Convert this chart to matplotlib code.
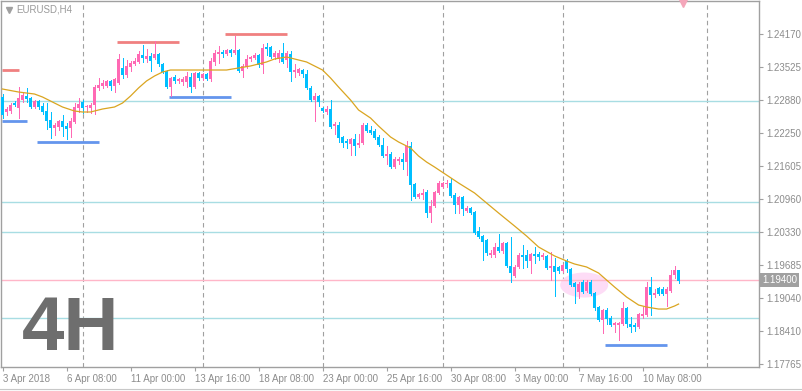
import numpy as np
import matplotlib.pyplot as plt
from matplotlib.patches import Ellipse
from matplotlib.lines import Line2D
from matplotlib.transforms import blended_transform_factory

# EURUSD H4 candles, 3 Apr 2018 - 10 May 2018
opens = [
    1.22947, 1.22656, 1.22675, 1.22830, 1.22733, 1.22889, 1.22966, 1.22928, 1.22753, 1.22869,
    1.22772, 1.22675, 1.22501, 1.22345, 1.22365, 1.22481, 1.22384, 1.22345, 1.22462, 1.22733,
    1.22850, 1.22753, 1.22733, 1.22792, 1.23122, 1.23160, 1.23160, 1.23258, 1.23160, 1.23219,
    1.23510, 1.23374, 1.23530, 1.23588, 1.23627, 1.23763, 1.23685, 1.23743, 1.23705, 1.23782,
    1.23588, 1.23452, 1.23141, 1.23335, 1.23258, 1.23238, 1.23238, 1.23335, 1.23141, 1.23413,
    1.23316, 1.23393, 1.23296, 1.23627, 1.23782, 1.23821, 1.23782, 1.23860, 1.23802, 1.23860,
    1.23452, 1.23530, 1.23685, 1.23705, 1.23763, 1.23568, 1.23918, 1.23918, 1.23724, 1.23685,
    1.23802, 1.23665, 1.23782, 1.23432, 1.23413, 1.23471, 1.23393, 1.23122, 1.22889, 1.22966,
    1.22733, 1.22656, 1.22714, 1.22384, 1.22403, 1.22171, 1.22094, 1.22035, 1.22132, 1.22016,
    1.22055, 1.22403, 1.22307, 1.22287, 1.22171, 1.22016, 1.21802, 1.21841, 1.21588, 1.21705,
    1.21744, 1.21685, 1.21997, 1.21258, 1.21006, 1.21045, 1.21103, 1.20696, 1.20832, 1.21084,
    1.21200, 1.21258, 1.21278, 1.21045, 1.20851, 1.21006, 1.20734, 1.20793, 1.20715, 1.20346,
    1.20249, 1.20172, 1.19881, 1.19881, 1.20036, 1.19959, 1.20114, 1.19667, 1.19473, 1.19648,
    1.19881, 1.19881, 1.19764, 1.19900, 1.19900, 1.19842, 1.19862, 1.19628, 1.19667, 1.19648,
    1.19570, 1.19764, 1.19609, 1.19337, 1.19162, 1.19356, 1.19181, 1.19356, 1.19142, 1.18871,
    1.18619, 1.18813, 1.18658, 1.18522, 1.18522, 1.18541, 1.18852, 1.18541, 1.18522, 1.18483,
    1.18697, 1.18716, 1.19259, 1.19104, 1.19240, 1.19220, 1.19123, 1.19181, 1.19492, 1.19589,
]
highs = [
    1.23005, 1.22753, 1.22830, 1.22869, 1.23141, 1.23025, 1.23122, 1.22947, 1.22889, 1.22889,
    1.22830, 1.22830, 1.22656, 1.22442, 1.22501, 1.22598, 1.22442, 1.22539, 1.22830, 1.22928,
    1.22889, 1.22792, 1.22830, 1.23180, 1.23316, 1.23277, 1.23277, 1.23277, 1.23316, 1.23782,
    1.23705, 1.23665, 1.23646, 1.23705, 1.23840, 1.23957, 1.23879, 1.23802, 1.24035, 1.23802,
    1.23607, 1.23471, 1.23335, 1.23374, 1.23316, 1.23335, 1.23432, 1.23413, 1.23432, 1.23432,
    1.23413, 1.23413, 1.23705, 1.23860, 1.23937, 1.23860, 1.23879, 1.23879, 1.24132, 1.23879,
    1.23588, 1.23763, 1.23743, 1.23802, 1.23782, 1.23976, 1.23996, 1.23937, 1.23840, 1.23860,
    1.23996, 1.23840, 1.23840, 1.23588, 1.23510, 1.23491, 1.23471, 1.23160, 1.23025, 1.22986,
    1.22753, 1.22772, 1.22889, 1.22462, 1.22462, 1.22190, 1.22132, 1.22151, 1.22229, 1.22229,
    1.22442, 1.22442, 1.22384, 1.22326, 1.22209, 1.22151, 1.21997, 1.21880, 1.21783, 1.21783,
    1.21860, 1.22094, 1.22074, 1.21278, 1.21084, 1.21161, 1.21142, 1.20948, 1.21122, 1.21317,
    1.21297, 1.21336, 1.21375, 1.21084, 1.21026, 1.21026, 1.20832, 1.20812, 1.20734, 1.20424,
    1.20269, 1.20191, 1.19978, 1.20114, 1.20288, 1.20133, 1.20133, 1.20230, 1.19687, 1.19920,
    1.20075, 1.19978, 1.19920, 1.20036, 1.19939, 1.19920, 1.19881, 1.19939, 1.19823, 1.19667,
    1.19706, 1.19803, 1.19628, 1.19356, 1.19356, 1.19395, 1.19395, 1.19395, 1.19162, 1.18891,
    1.18832, 1.18852, 1.18697, 1.18580, 1.18580, 1.18968, 1.18871, 1.18677, 1.18561, 1.18755,
    1.18871, 1.19356, 1.19453, 1.19220, 1.19259, 1.19259, 1.19259, 1.19589, 1.19667, 1.19589,
]
lows = [
    1.22539, 1.22598, 1.22636, 1.22772, 1.22539, 1.22850, 1.22850, 1.22733, 1.22733, 1.22714,
    1.22617, 1.22326, 1.22151, 1.22209, 1.22307, 1.22190, 1.22132, 1.22171, 1.22442, 1.22656,
    1.22636, 1.22656, 1.22636, 1.22617, 1.23083, 1.23122, 1.23141, 1.23083, 1.23044, 1.23199,
    1.23316, 1.23335, 1.23452, 1.23568, 1.23607, 1.23627, 1.23627, 1.23452, 1.23685, 1.23549,
    1.23413, 1.23122, 1.22966, 1.23219, 1.23219, 1.23180, 1.23141, 1.23044, 1.23122, 1.23277,
    1.23277, 1.23277, 1.23258, 1.23568, 1.23607, 1.23724, 1.23763, 1.23743, 1.23782, 1.23432,
    1.23335, 1.23510, 1.23646, 1.23685, 1.23530, 1.23413, 1.23763, 1.23705, 1.23685, 1.23627,
    1.23607, 1.23530, 1.23258, 1.23335, 1.23374, 1.23335, 1.23102, 1.22869, 1.22481, 1.22772,
    1.22656, 1.22617, 1.22345, 1.22229, 1.22074, 1.21977, 1.21958, 1.21822, 1.21822, 1.21977,
    1.22035, 1.22268, 1.22229, 1.22132, 1.21997, 1.21783, 1.21646, 1.21569, 1.21569, 1.21646,
    1.21549, 1.21433, 1.20948, 1.20987, 1.20987, 1.20967, 1.20618, 1.20521, 1.20812, 1.21064,
    1.21181, 1.21200, 1.21006, 1.20696, 1.20696, 1.20657, 1.20715, 1.20676, 1.20288, 1.20211,
    1.19784, 1.19881, 1.19842, 1.19842, 1.19939, 1.19920, 1.19648, 1.19356, 1.19453, 1.19628,
    1.19628, 1.19648, 1.19531, 1.19726, 1.19784, 1.19803, 1.19609, 1.19395, 1.19085, 1.19531,
    1.19551, 1.19551, 1.19278, 1.18949, 1.19045, 1.19142, 1.19162, 1.19104, 1.18813, 1.18599,
    1.18367, 1.18541, 1.18502, 1.18386, 1.18231, 1.18522, 1.18483, 1.18386, 1.18405, 1.18463,
    1.18658, 1.18697, 1.18716, 1.19065, 1.19104, 1.19104, 1.18891, 1.19162, 1.19434, 1.19337,
]
closes = [
    1.22598, 1.22714, 1.22792, 1.22792, 1.22928, 1.22986, 1.22908, 1.22753, 1.22869, 1.22753,
    1.22656, 1.22481, 1.22345, 1.22403, 1.22481, 1.22365, 1.22326, 1.22481, 1.22753, 1.22811,
    1.22733, 1.22772, 1.22792, 1.23141, 1.23180, 1.23219, 1.23258, 1.23160, 1.23296, 1.23685,
    1.23374, 1.23549, 1.23607, 1.23646, 1.23782, 1.23705, 1.23743, 1.23646, 1.23782, 1.23588,
    1.23432, 1.23141, 1.23316, 1.23258, 1.23296, 1.23296, 1.23355, 1.23141, 1.23413, 1.23316,
    1.23393, 1.23296, 1.23646, 1.23802, 1.23821, 1.23782, 1.23860, 1.23802, 1.23860, 1.23452,
    1.23549, 1.23685, 1.23724, 1.23763, 1.23568, 1.23899, 1.23879, 1.23724, 1.23802, 1.23802,
    1.23627, 1.23802, 1.23432, 1.23471, 1.23491, 1.23393, 1.23122, 1.22889, 1.22966, 1.22850,
    1.22675, 1.22714, 1.22365, 1.22423, 1.22151, 1.22055, 1.22055, 1.22132, 1.21997, 1.22055,
    1.22403, 1.22287, 1.22248, 1.22151, 1.22016, 1.21802, 1.21841, 1.21588, 1.21744, 1.21744,
    1.21685, 1.21997, 1.21239, 1.21006, 1.21064, 1.21084, 1.20696, 1.20832, 1.21103, 1.21278,
    1.21278, 1.21278, 1.21026, 1.20851, 1.21006, 1.20773, 1.20793, 1.20696, 1.20308, 1.20230,
    1.20133, 1.19920, 1.19920, 1.20036, 1.19959, 1.20114, 1.19667, 1.19531, 1.19648, 1.19881,
    1.19842, 1.19764, 1.19900, 1.19862, 1.19842, 1.19881, 1.19628, 1.19667, 1.19551, 1.19570,
    1.19687, 1.19609, 1.19298, 1.19259, 1.19317, 1.19162, 1.19356, 1.19123, 1.18852, 1.18619,
    1.18813, 1.18638, 1.18522, 1.18561, 1.18561, 1.18852, 1.18541, 1.18483, 1.18483, 1.18736,
    1.18736, 1.19259, 1.19104, 1.19142, 1.19123, 1.19123, 1.19220, 1.19492, 1.19589, 1.19375,
]

# moving average (orange line), sampled at these bars
ma_bars = [0, 4, 8, 10, 13, 15, 18, 20, 22, 25, 28, 30, 32, 34, 36, 38, 40, 42, 46, 52,
           56, 59, 62, 64, 66, 68, 71, 73, 76, 78, 80, 82, 84, 87, 89, 92, 94, 97, 99, 102,
           104, 106, 108, 111, 114, 118, 121, 124, 128, 131, 134, 138, 141, 143, 146, 149, 153, 156, 159, 161,
           164, 166, 168, 169]
ma_vals = [1.23102, 1.23044, 1.23005, 1.22947, 1.22830, 1.22753, 1.22675, 1.22656, 1.22656, 1.22714,
           1.22753, 1.22830, 1.22966, 1.23122, 1.23258, 1.23355, 1.23432, 1.23471, 1.23471, 1.23471,
           1.23471, 1.23510, 1.23549, 1.23588, 1.23627, 1.23685, 1.23724, 1.23685, 1.23627, 1.23549,
           1.23471, 1.23316, 1.23141, 1.22889, 1.22695, 1.22539, 1.22384, 1.22171, 1.22074, 1.21958,
           1.21802, 1.21685, 1.21588, 1.21433, 1.21278, 1.21084, 1.20890, 1.20696, 1.20443, 1.20249,
           1.20036, 1.19862, 1.19764, 1.19706, 1.19648, 1.19531, 1.19259, 1.19065, 1.18910, 1.18871,
           1.18832, 1.18832, 1.18891, 1.18929]

# horizontal levels
blue_levels = [1.22869, 1.20903, 1.20333, 1.18652]
pink_level = 1.19400

# short support / resistance segments: (price, first bar, last bar)
res_segments = [(1.23471, -0.1, 4.1), (1.24005, 28.6, 44.1), (1.24170, 55.6, 71.1)]
sup_segments = [(1.22481, -0.1, 6.1), (1.22080, 8.6, 24.1), (1.22953, 41.6, 57.1), (1.18140, 150.6, 166.1)]

yticks = [1.24170, 1.23525, 1.22880, 1.22250, 1.21605, 1.20960, 1.20330,
          1.19685, 1.19040, 1.18410, 1.17765]
xtick_labels = ["3 Apr 2018", "6 Apr 08:00", "11 Apr 00:00", "13 Apr 16:00", "18 Apr 08:00",
                "23 Apr 00:00", "25 Apr 16:00", "30 Apr 08:00", "3 May 00:00", "7 May 16:00",
                "10 May 08:00"]
grid_bars = [20, 50, 80, 110, 140, 176]

PINK = '#FF69B4'
BLUE = '#00BFFF'
GRAY = '#A0A0A0'
FONT = 'Liberation Sans'

W, H = 802, 391
fig = plt.figure(figsize=(W / 100, H / 100), dpi=100)
ax = fig.add_axes([1 / W, 1 - 367 / H, 758 / W, 366.5 / H])

o, h, l, c = map(np.array, (opens, highs, lows, closes))
x = np.arange(len(o))
cols = np.where(c >= o, PINK, BLUE)

for gx in grid_bars:
    ax.axvline(gx, color=GRAY, lw=0.8, dashes=(4, 3), zorder=0)
for lv in blue_levels:
    ax.axhline(lv, color='#A8DDE3', lw=1, zorder=1)
ax.axhline(pink_level, color='#FFB6C8', lw=1, zorder=1)

ax.add_patch(Ellipse((145.4, 1.19298), 12, 0.00485, facecolor='#FDDCF6', edgecolor='none', zorder=0.5))

for p, a, b in res_segments:
    ax.hlines(p, a, b, color='#F08080', lw=2, zorder=2)
for p, a, b in sup_segments:
    ax.hlines(p, a, b, color='#6495ED', lw=2, zorder=2)

ax.vlines(x, l, h, colors=cols, lw=0.6, zorder=3, antialiased=False)
body = np.maximum(np.abs(c - o), 0.00015)
ax.bar(x, body, bottom=np.minimum(o, c), width=0.68, color=cols, linewidth=0, zorder=4, antialiased=False)

ax.plot(ma_bars, ma_vals, color='#DAA520', lw=0.9, zorder=5)

# little alert arrow at the top right
ax.plot([170.2], [1.2478], marker='v', ms=6, color='#F4A6BA', clip_on=False, zorder=6)

ax.set_xlim(-0.375, 189.1)
ax.set_ylim(1.17707, 1.24820)

ax.set_xticks(np.arange(len(xtick_labels)) * 16)
ax.set_xticklabels(xtick_labels, ha='left', family=FONT)
ax.yaxis.tick_right()
ax.set_yticks(yticks)
ax.set_yticklabels([f'{v:.5f}' for v in yticks], family=FONT)
ax.tick_params(axis='both', colors=GRAY, labelcolor='#8C8C8C', labelsize=7, length=3, width=0.8, pad=2)
for s in ax.spines.values():
    s.set_color(GRAY)
    s.set_linewidth(1)

tr = blended_transform_factory(ax.transAxes, ax.transData)
ax.text(1.004, pink_level, '1.19400', transform=tr, color='white', fontsize=7, family=FONT,
        va='center', ha='left', bbox=dict(boxstyle='square,pad=0.2', fc=GRAY, ec='none'), zorder=7)

fig.add_artist(Line2D([8.5 / W], [1 - 10 / H], marker='v', ms=4, color=GRAY, transform=fig.transFigure))
fig.text(16 / W, 1 - 9.5 / H, 'EURUSD,H4', fontsize=7, family=FONT, color='#9A9A9A', va='center', ha='left')
fig.text(22 / W, 1 - 350 / H, '4H', fontsize=55, color='#6E6E6E', family=FONT, weight='bold',
         va='baseline', ha='left')

for yy in (388.5, 390.5):
    fig.add_artist(Line2D([0, 1], [1 - yy / H] * 2, color='#C8C8C8', lw=0.8, transform=fig.transFigure))

fig.savefig('out.png', dpi=100)
